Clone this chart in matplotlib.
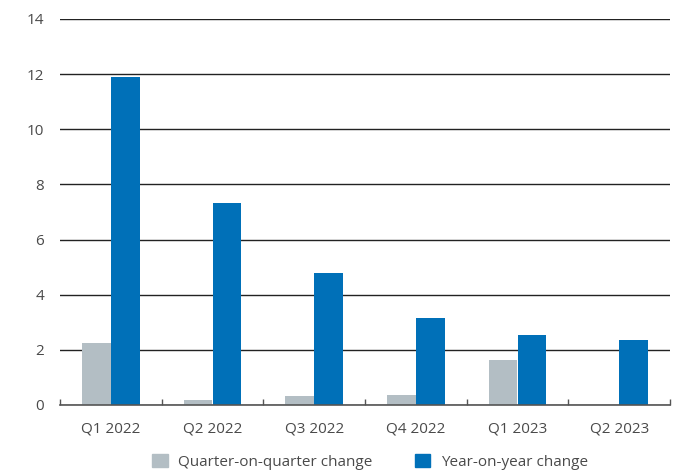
import matplotlib
matplotlib.use("Agg")
import matplotlib.pyplot as plt
import numpy as np
from matplotlib.patches import Patch

categories = ["Q1 2022", "Q2 2022", "Q3 2022", "Q4 2022", "Q1 2023", "Q2 2023"]
qoq = [2.25, 0.18, 0.32, 0.35, 1.65, 0.0]
yoy = [11.9, 7.34, 4.8, 3.15, 2.53, 2.35]
series_names = ["Quarter-on-quarter change", "Year-on-year change"]
yticks = [0, 2, 4, 6, 8, 10, 12, 14]

plt.rcParams['font.family'] = ['Open Sans', 'DejaVu Sans']
gray = "#b3bec4"
blue = "#0070b8"
textc = "#4a4a4a"

fig = plt.figure(figsize=(6.73, 4.74), dpi=100)
ax = fig.add_axes([60/673, (474-405)/474, 610/673, (405-19)/474])

x = np.arange(len(categories))
w = 0.285
ax.bar(x - w/2, qoq, w, color=gray, zorder=3, label=series_names[0])
ax.bar(x + w/2, yoy, w, color=blue, zorder=3, label=series_names[1])

ax.set_xlim(-0.5, len(categories) - 0.5)
ax.set_ylim(0, 14)
ax.set_yticks(yticks)
ax.set_yticklabels([str(t) for t in yticks])
ax.yaxis.grid(True, color="#222222", linewidth=1.0, zorder=0)
ax.set_axisbelow(True)

for s in ["top", "right", "left"]:
    ax.spines[s].set_visible(False)
ax.spines["bottom"].set_color("#555555")
ax.spines["bottom"].set_linewidth(1.2)
ax.spines["bottom"].set_zorder(4)

ax.tick_params(axis="y", length=0, pad=11.5, labelsize=11, labelcolor=textc)
ax.set_xticks(x)
ax.set_xticklabels(categories)
ax.tick_params(axis="x", length=0, pad=12, labelsize=11, labelcolor=textc)
ax.set_xticks(np.arange(len(categories) + 1) - 0.5, minor=True)
ax.tick_params(axis="x", which="minor", direction="in", length=4, color="#555555", width=1)

handles = [Patch(color=gray), Patch(color=blue)]
fig.legend(handles, series_names, loc="lower center", ncol=2, frameon=False,
           bbox_to_anchor=(0.55, -0.02), fontsize=11, labelcolor=textc,
           handlelength=1.0, handleheight=1.0, columnspacing=2.75, handletextpad=0.7)

fig.savefig("out.png", dpi=100)
